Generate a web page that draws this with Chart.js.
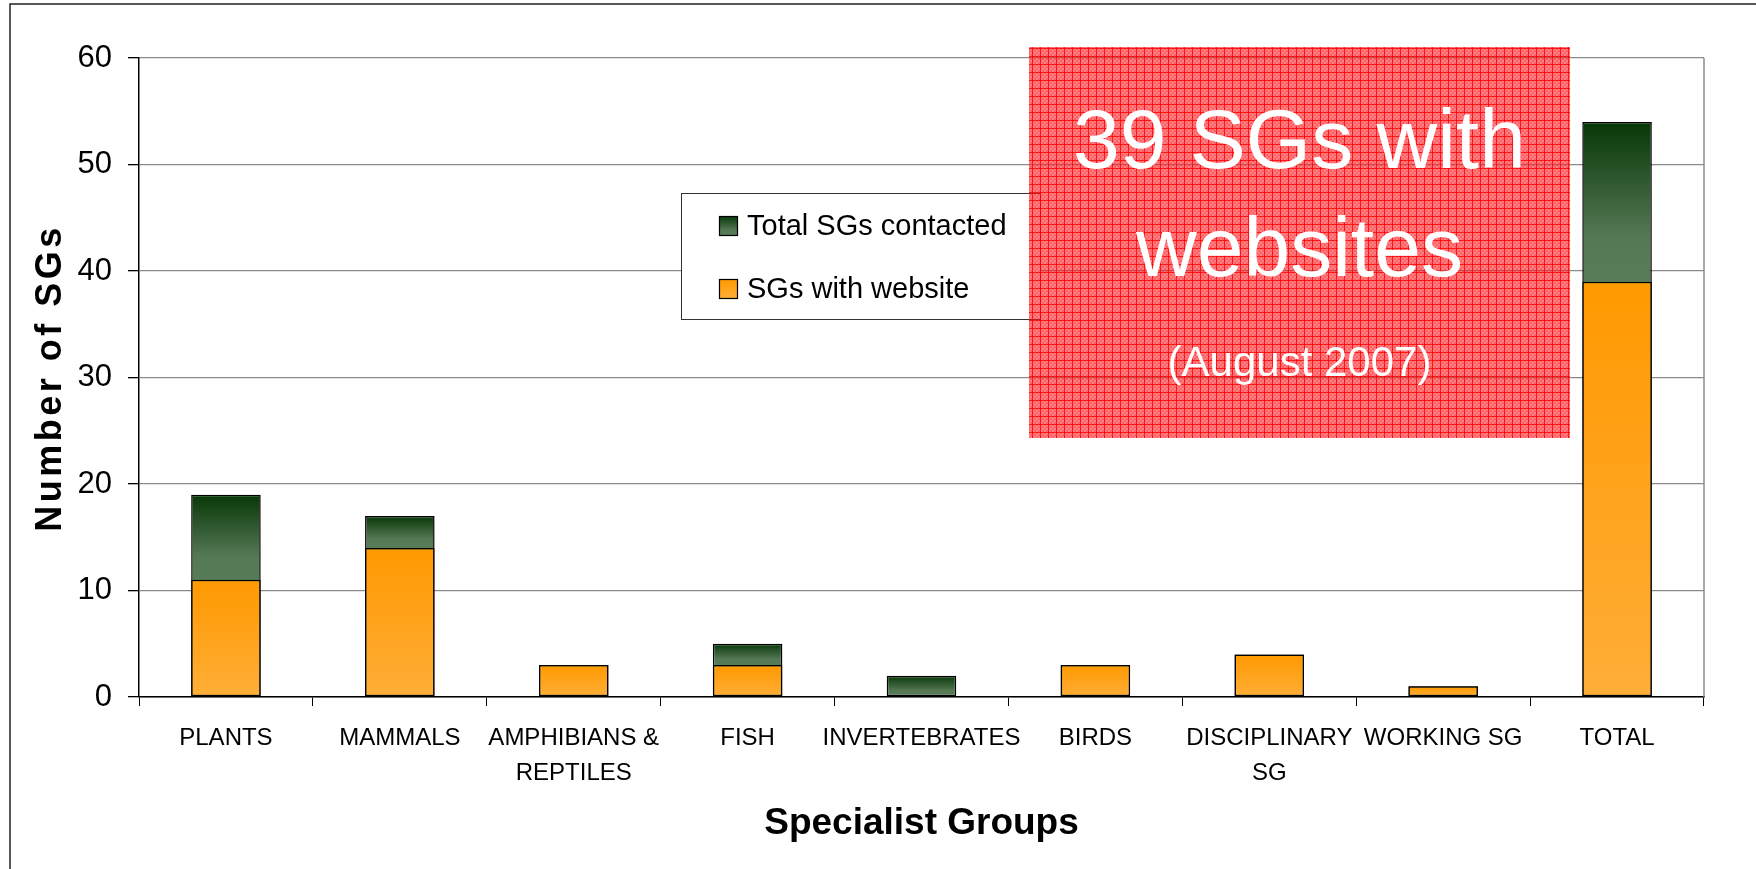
<!DOCTYPE html>
<html>
<head>
<meta charset="utf-8">
<script src="https://cdn.jsdelivr.net/npm/chart.js@4.4.1/dist/chart.umd.min.js"></script>
<style>
  html, body { margin: 0; padding: 0; background: #ffffff; }
  #wrap { width: 1756px; height: 869px; position: relative; }
  canvas { display: block; }
</style>
</head>
<body>
<div id="wrap"><canvas id="c" width="1756" height="869"></canvas></div>
<script>
// ---- Data ----
const categories = [
  ['PLANTS'], ['MAMMALS'], ['AMPHIBIANS &', 'REPTILES'], ['FISH'],
  ['INVERTEBRATES'], ['BIRDS'], ['DISCIPLINARY', 'SG'], ['WORKING SG'], ['TOTAL']
];
const totalContacted = [19, 17, 3, 5, 2, 3, 4, 1, 54];
const withWebsite    = [11, 14, 3, 3, 0, 3, 4, 1, 39];
const seriesLabels = ['Total SGs contacted', 'SGs with website'];
const yTicks = [0, 10, 20, 30, 40, 50, 60];
const axisTitles = { x: 'Specialist Groups', y: 'Number of SGs' };
const noteLines = ['39 SGs with', 'websites', '(August 2007)'];

const FONT = "'Liberation Sans', Arial, sans-serif";

function greenGrad(c, yTop, yBot) {
  const g = c.createLinearGradient(0, yTop, 0, yBot);
  g.addColorStop(0, '#073707');
  g.addColorStop(0.72, '#557855');
  g.addColorStop(1, '#587b58');
  return g;
}
function orangeGrad(c, yTop, yBot) {
  const g = c.createLinearGradient(0, yTop, 0, yBot);
  g.addColorStop(0, '#ff9900');
  g.addColorStop(1, '#ffae38');
  return g;
}

const greenBg = (ctx) => {
  const chart = ctx.chart;
  const y = chart.scales && chart.scales.y;
  if (ctx.type !== 'data' || !y) return '#4a6d4a';
  const i = ctx.dataIndex;
  const yTop = y.getPixelForValue(totalContacted[i]);
  const yBot = y.getPixelForValue(withWebsite[i]);
  if (!(yBot - yTop > 1)) return '#4a6d4a';
  return greenGrad(chart.ctx, yTop, yBot);
};
const orangeBg = (ctx) => {
  const chart = ctx.chart;
  const y = chart.scales && chart.scales.y;
  if (ctx.type !== 'data' || !y) return '#ffa520';
  const i = ctx.dataIndex;
  const yTop = y.getPixelForValue(withWebsite[i]);
  const yBot = y.getPixelForValue(0);
  if (!(yBot - yTop > 1)) return '#ffa520';
  return orangeGrad(chart.ctx, yTop, yBot);
};

// pattern for the red note box
function makePattern(c) {
  const p = document.createElement('canvas');
  p.width = 8; p.height = 8;
  const pc = p.getContext('2d');
  pc.fillStyle = 'rgba(255,30,40,0.56)';
  pc.fillRect(0, 0, 8, 8);
  pc.fillStyle = 'rgba(255,0,0,0.25)';
  for (let yy = 0; yy < 8; yy++) for (let xx = 0; xx < 8; xx++) {
    if (((xx >> 1) + (yy >> 1)) % 2 === 0) pc.fillRect(xx, yy, 1, 1);
  }
  pc.fillStyle = 'rgba(255,0,0,0.8)';
  pc.fillRect(0, 0, 8, 1);
  pc.fillRect(0, 0, 1, 8);
  return c.createPattern(p, 'repeat');
}

const decorPlugin = {
  id: 'decor',
  beforeDraw(chart) {
    const c = chart.ctx;
    c.save();
    c.fillStyle = '#ffffff';
    c.fillRect(0, 0, chart.width, chart.height);
    c.restore();
  },
  afterDatasetsDraw(chart) {
    const c = chart.ctx;
    const a = chart.chartArea;
    c.save();
    c.strokeStyle = '#8c8c8c';
    c.lineWidth = 1.5;
    c.beginPath();
    c.moveTo(a.right, a.top);
    c.lineTo(a.right, a.bottom);
    c.stroke();
    c.restore();
  },
  afterDraw(chart) {
    const c = chart.ctx;
    c.save();
    // outer frame (left + top)
    c.strokeStyle = '#222222';
    c.lineWidth = 1.5;
    c.beginPath();
    c.moveTo(10, chart.height);
    c.lineTo(10, 4);
    c.lineTo(chart.width, 4);
    c.stroke();

    // y axis title
    c.save();
    c.translate(51, 380);
    c.rotate(-Math.PI / 2);
    c.font = "bold 36px " + FONT;
    try { c.letterSpacing = '3.5px'; } catch (e) {}
    c.fillStyle = '#000000';
    c.textAlign = 'center';
    c.textBaseline = 'middle';
    c.fillText(axisTitles.y, 2, 0);
    c.restore();

    // legend box
    const lx = 681, ly = 193, lw = 359, lh = 126;
    c.fillStyle = '#ffffff';
    c.fillRect(lx, ly, lw, lh);
    c.strokeStyle = '#333333';
    c.lineWidth = 1;
    c.strokeRect(lx + 0.5, ly + 0.5, lw, lh);
    const rows = [226, 289];
    const ds = chart.data.datasets;
    [0, 1].forEach((di, k) => {
      const cy = rows[k];
      const sx = 719, sy = cy - 10, sw = 19, sh = 20;
      c.fillStyle = di === 0 ? greenGrad(c, sy, sy + sh) : orangeGrad(c, sy, sy + sh);
      c.fillRect(sx, sy, sw, sh);
      c.strokeStyle = '#000000';
      c.lineWidth = 1.2;
      c.strokeRect(sx + 0.5, sy + 0.5, sw - 1, sh - 1);
      c.fillStyle = '#000000';
      c.font = "29px " + FONT;
      c.textAlign = 'left';
      c.textBaseline = 'middle';
      c.fillText(ds[di].label, 747, cy + 1);
    });

    // red note box
    const bx = 1029, by = 47, bw = 541, bh = 391;
    c.fillStyle = makePattern(c);
    c.fillRect(bx, by, bw, bh);
    c.fillStyle = '#ffffff';
    c.textAlign = 'center';
    c.textBaseline = 'alphabetic';
    c.font = "84px " + FONT;
    c.fillText(noteLines[0], bx + bw / 2, 168);
    c.fillText(noteLines[1], bx + bw / 2, 276);
    c.font = "42px " + FONT;
    c.fillText(noteLines[2], bx + bw / 2, 376);
    c.restore();
  }
};

new Chart(document.getElementById('c'), {
  type: 'bar',
  data: {
    labels: categories,
    datasets: [
      {
        label: seriesLabels[0],
        data: totalContacted,
        backgroundColor: greenBg,
        borderColor: '#000000',
        borderWidth: 1.5,
        borderSkipped: false,
        grouped: false,
        order: 1,
        barPercentage: 0.4,
        categoryPercentage: 1.0
      },
      {
        label: seriesLabels[1],
        data: withWebsite,
        backgroundColor: orangeBg,
        borderColor: '#000000',
        borderWidth: 1.5,
        borderSkipped: false,
        grouped: false,
        order: 0,
        barPercentage: 0.4,
        categoryPercentage: 1.0
      }
    ]
  },
  options: {
    responsive: false,
    animation: false,
    devicePixelRatio: 1,
    layout: { padding: { top: 58, right: 52, left: 0, bottom: 0 } },
    plugins: {
      legend: { display: false },
      tooltip: { enabled: false },
      title: { display: false }
    },
    scales: {
      x: {
        offset: true,
        grid: {
          display: true,
          offset: true,
          drawOnChartArea: false,
          drawTicks: true,
          tickLength: 9,
          color: '#000000',
          tickColor: '#000000',
          lineWidth: 1
        },
        border: { display: true, color: '#000000', width: 1.5 },
        ticks: {
          autoSkip: false,
          maxRotation: 0,
          minRotation: 0,
          padding: 15,
          color: '#000000',
          font: { family: FONT, size: 24, lineHeight: 1.45 }
        },
        title: {
          display: true,
          text: axisTitles.x,
          color: '#000000',
          font: { family: FONT, size: 37, weight: 'bold', lineHeight: 1.2 },
          padding: { top: 0, bottom: 23 }
        },
        afterFit(s) { s.height = 172; }
      },
      y: {
        min: 0,
        max: 60,
        afterBuildTicks(s) { s.ticks = yTicks.map(v => ({ value: v })); },
        grid: {
          display: true,
          drawOnChartArea: true,
          drawTicks: true,
          tickLength: 11,
          color: '#8a8a8a',
          tickColor: '#000000',
          lineWidth: 1.3
        },
        border: { display: true, color: '#000000', width: 1.5 },
        ticks: {
          padding: 16,
          color: '#000000',
          font: { family: FONT, size: 31 }
        },
        title: { display: false },
        afterFit(s) { s.width = 139; }
      }
    }
  },
  plugins: [decorPlugin]
});
</script>
</body>
</html>
